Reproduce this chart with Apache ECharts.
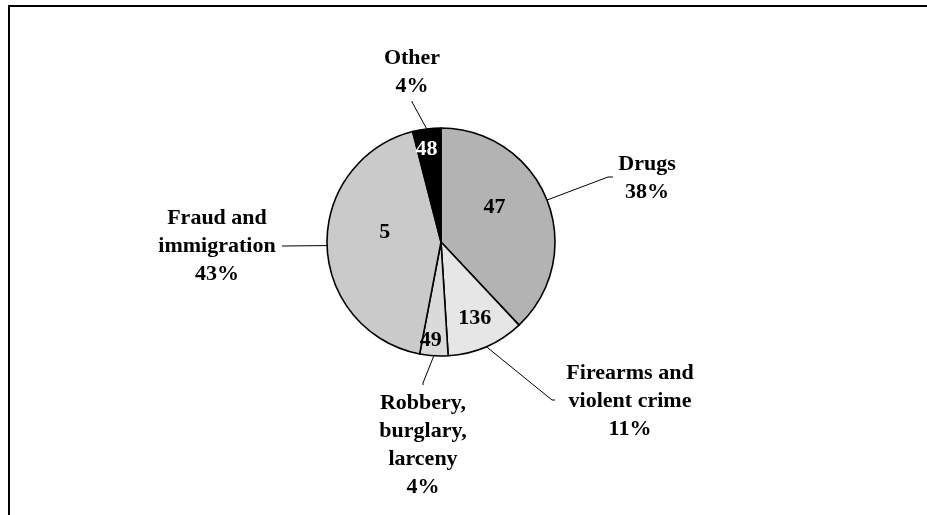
<!DOCTYPE html>
<html>
<head>
<meta charset="utf-8">
<script src="https://cdn.jsdelivr.net/npm/echarts@6/dist/echarts.min.js"></script>
<style>
  html, body { margin: 0; padding: 0; background: #fff; }
  #chart { width: 927px; height: 515px; }
</style>
</head>
<body>
<div id="chart"></div>
<script>
// Offence categories and their share of cases (percent)
const categories = ['Drugs', 'Firearms and\nviolent crime', 'Robbery,\nburglary,\nlarceny', 'Fraud and\nimmigration', 'Other'];
const shares = [38, 11, 4, 43, 4];
// Figures printed inside each slice
const sliceNumbers = ['47', '136', '49', '5', '48'];

const sliceColors = ['#b3b3b3', '#e6e6e6', '#dadada', '#cacaca', '#000000'];
const numberColors = ['#000', '#000', '#000', '#000', '#fff'];

const CX = 441, CY = 242, R = 114;

// Outer label placement: label centre and the bend / end of its leader line
const outerLayout = [
  { x: 647, y: 178, end: [608, 177], tail: [613, 177] },
  { x: 630, y: 401, end: [552, 400], tail: [555, 400] },
  { x: 423, y: 445, end: [423, 383], tail: [423, 385] },
  { x: 217, y: 246, end: [283, 246], tail: [282, 246] },
  { x: 412, y: 72,  end: [412, 102], tail: [412, 101] }
];
// Numbers inside the slices: polar position (degrees clockwise from 12 o'clock, fraction of radius)
const innerPos = [[57, 0.56], [156, 0.73], [186, 0.87], [280, 0.50], [351, 0.82]];

const total = shares.reduce((a, b) => a + b, 0);
function midAngle(i) {
  let before = 0;
  for (let k = 0; k < i; k++) before += shares[k];
  return ((before + shares[i] / 2) / total) * Math.PI * 2; // clockwise from 12 o'clock
}
function edgePoint(i) {
  const a = midAngle(i);
  return [CX + R * Math.sin(a), CY - R * Math.cos(a)];
}
function innerPoint(i) {
  const a = innerPos[i][0] * Math.PI / 180, r = innerPos[i][1] * R;
  return [CX + r * Math.sin(a), CY - r * Math.cos(a)];
}

const font = { fontFamily: 'Liberation Serif', fontWeight: 'bold', fontSize: 22, color: '#000', lineHeight: 28 };

const chart = echarts.init(document.getElementById('chart'), null, { renderer: 'canvas' });
chart.setOption({
  backgroundColor: '#fff',
  animation: false,
  graphic: [{
    type: 'rect',
    shape: { x: 9, y: 6, width: 1000, height: 1000 },
    style: { fill: 'none', stroke: '#000', lineWidth: 2 },
    silent: true
  }],
  series: [
    {
      type: 'pie',
      center: [CX, CY],
      radius: R,
      startAngle: 90,
      clockwise: true,
      avoidLabelOverlap: false,
      itemStyle: { borderColor: '#000', borderWidth: 1.6 },
      label: Object.assign({ show: true, position: 'outside', formatter: '{b}\n{c}%' }, font),
      labelLine: { show: true, lineStyle: { color: '#000', width: 1 } },
      labelLayout: function (p) {
        const i = p.dataIndex, L = outerLayout[i];
        return {
          x: L.x, y: L.y, align: 'center', verticalAlign: 'middle',
          labelLinePoints: [edgePoint(i), L.end, L.tail]
        };
      },
      data: categories.map((name, i) => ({
        name: name, value: shares[i], itemStyle: { color: sliceColors[i] }
      }))
    },
    {
      type: 'pie',
      center: [CX, CY],
      radius: R,
      startAngle: 90,
      clockwise: true,
      silent: true,
      itemStyle: { color: 'rgba(0,0,0,0)', borderWidth: 0 },
      label: Object.assign({ show: true, position: 'inside' }, font),
      labelLine: { show: false },
      labelLayout: function (p) {
        const pt = innerPoint(p.dataIndex);
        return { x: pt[0], y: pt[1], align: 'center', verticalAlign: 'middle' };
      },
      data: categories.map((name, i) => ({
        name: name, value: shares[i],
        label: { formatter: sliceNumbers[i], color: numberColors[i] }
      }))
    }
  ]
});
</script>
</body>
</html>
